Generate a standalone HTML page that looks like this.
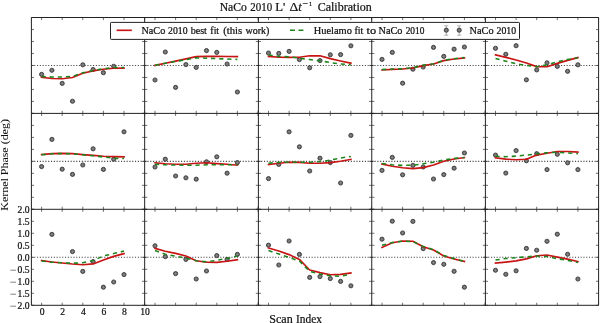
<!DOCTYPE html>
<html><head><meta charset="utf-8"><style>
html,body{margin:0;padding:0;background:#fff;}
body{width:600px;height:323px;overflow:hidden;}
svg{display:block;}
#w{width:600px;height:323px;will-change:transform;}
text{font-family:"Liberation Serif",serif;fill:#111;stroke:#111;stroke-width:0.22px;}
.tl{font-size:9.6px;}
.tt text{font-size:11px;}
.lg text{font-size:9.4px;}
.al{font-size:11.2px;}
.dot{stroke:#444;stroke-width:1.1;stroke-dasharray:1.1 1.7;}
.red{fill:none;stroke:#c81414;stroke-width:1.65;stroke-linejoin:round;stroke-linecap:square;}
.grn{fill:none;stroke:#1c841c;stroke-width:1.55;stroke-dasharray:4.2 3.9;}
.tick{stroke:#111;stroke-width:0.6;fill:none;}
.frame{stroke:#222;stroke-width:1;fill:none;}
</style></head><body>
<div id="w"><svg width="600" height="323" viewBox="0 0 600 323">
<defs>
<clipPath id="c00"><rect x="31.4" y="17.5" width="113.26" height="95.9"/></clipPath>
<clipPath id="c01"><rect x="144.66" y="17.5" width="113.74" height="95.9"/></clipPath>
<clipPath id="c02"><rect x="258.4" y="17.5" width="113.35" height="95.9"/></clipPath>
<clipPath id="c03"><rect x="371.75" y="17.5" width="113.65" height="95.9"/></clipPath>
<clipPath id="c04"><rect x="485.4" y="17.5" width="113.2" height="95.9"/></clipPath>
<clipPath id="c10"><rect x="31.4" y="113.4" width="113.26" height="95.9"/></clipPath>
<clipPath id="c11"><rect x="144.66" y="113.4" width="113.74" height="95.9"/></clipPath>
<clipPath id="c12"><rect x="258.4" y="113.4" width="113.35" height="95.9"/></clipPath>
<clipPath id="c13"><rect x="371.75" y="113.4" width="113.65" height="95.9"/></clipPath>
<clipPath id="c14"><rect x="485.4" y="113.4" width="113.2" height="95.9"/></clipPath>
<clipPath id="c20"><rect x="31.4" y="209.3" width="113.26" height="96"/></clipPath>
<clipPath id="c21"><rect x="144.66" y="209.3" width="113.74" height="96"/></clipPath>
<clipPath id="c22"><rect x="258.4" y="209.3" width="113.35" height="96"/></clipPath>
<clipPath id="c23"><rect x="371.75" y="209.3" width="113.65" height="96"/></clipPath>
<clipPath id="c24"><rect x="485.4" y="209.3" width="113.2" height="96"/></clipPath>
<g id="m"><circle r="2.12" fill="#626262" stroke="#2c2c2c" stroke-width="0.75"/><path d="M0 -1.35V1.35M-1.35 0H1.35" stroke="#959595" stroke-width="0.6"/></g>
</defs>
<g clip-path="url(#c00)">
<line x1="31.4" y1="65.45" x2="144.66" y2="65.45" class="dot"/>
<use href="#m" x="41.6" y="74.4"/>
<use href="#m" x="51.9" y="70.3"/>
<use href="#m" x="62.2" y="83.4"/>
<use href="#m" x="72.5" y="101.25"/>
<use href="#m" x="82.8" y="64.8"/>
<use href="#m" x="93.1" y="69.5"/>
<use href="#m" x="103.4" y="72.7"/>
<use href="#m" x="113.7" y="66.3"/>
<polyline points="41.6,77.3 51.9,78.5 62.2,78.8 72.5,77.5 82.8,73.2 93.1,70.9 103.4,69.2 113.7,68.3 124,68.2" class="red"/>
<polyline points="41.6,76.5 51.9,77 62.2,77 72.5,76.4 82.8,72.7 93.1,70.6 103.4,68.7 113.7,67.6 124,67.4" class="grn"/>
</g>
<g clip-path="url(#c01)">
<line x1="144.66" y1="65.45" x2="258.4" y2="65.45" class="dot"/>
<use href="#m" x="155" y="80"/>
<use href="#m" x="165.3" y="52"/>
<use href="#m" x="175.6" y="87.4"/>
<use href="#m" x="185.9" y="64.6"/>
<use href="#m" x="196.2" y="67.4"/>
<use href="#m" x="206.5" y="50.6"/>
<use href="#m" x="216.8" y="52.4"/>
<use href="#m" x="227.1" y="64"/>
<use href="#m" x="237.4" y="92"/>
<polyline points="155,65.4 165.3,63.2 175.6,61.1 185.9,58.9 196.2,56.6 206.5,56.4 216.8,56.4 227.1,56.5 237.4,56.6" class="red"/>
<polyline points="155,65.2 165.3,63.3 175.6,61.5 185.9,59.6 196.2,57.9 206.5,58.2 216.8,58.6 227.1,59 237.4,59.4" class="grn"/>
</g>
<g clip-path="url(#c02)">
<line x1="258.4" y1="65.45" x2="371.75" y2="65.45" class="dot"/>
<use href="#m" x="268.5" y="53"/>
<use href="#m" x="278.8" y="53.4"/>
<use href="#m" x="289.1" y="51.4"/>
<use href="#m" x="299.4" y="59.6"/>
<use href="#m" x="309.7" y="67.8"/>
<use href="#m" x="320" y="60.6"/>
<use href="#m" x="330.3" y="54.8"/>
<use href="#m" x="340.6" y="54.6"/>
<use href="#m" x="350.9" y="45.8"/>
<polyline points="268.5,56.4 278.8,57.2 289.1,57.4 299.4,57.2 309.7,55.8 320,55.8 330.3,58.6 340.6,61 350.9,63.2" class="red"/>
<polyline points="268.5,55 278.8,56.4 289.1,56.8 299.4,58.2 309.7,59.6 320,60.8 330.3,62.6 340.6,64 350.9,64.8" class="grn"/>
</g>
<g clip-path="url(#c03)">
<line x1="371.75" y1="65.45" x2="485.4" y2="65.45" class="dot"/>
<use href="#m" x="382" y="59.4"/>
<use href="#m" x="392.3" y="52.4"/>
<use href="#m" x="402.6" y="83.2"/>
<use href="#m" x="412.9" y="69.2"/>
<use href="#m" x="423.2" y="67"/>
<use href="#m" x="433.5" y="47.4"/>
<use href="#m" x="443.8" y="56.4"/>
<use href="#m" x="454.1" y="49.2"/>
<use href="#m" x="464.4" y="47"/>
<polyline points="382,70 392.3,69.4 402.6,69 412.9,68 423.2,65.6 433.5,64 443.8,60.6 454.1,59 464.4,58" class="red"/>
<polyline points="382,69.6 392.3,69.1 402.6,68.7 412.9,67.7 423.2,65.3 433.5,63.7 443.8,60.3 454.1,58.7 464.4,57.6" class="grn"/>
</g>
<g clip-path="url(#c04)">
<line x1="485.4" y1="65.45" x2="598.6" y2="65.45" class="dot"/>
<use href="#m" x="495.5" y="48.3"/>
<use href="#m" x="505.8" y="54.3"/>
<use href="#m" x="516.1" y="45.7"/>
<use href="#m" x="526.4" y="79.8"/>
<use href="#m" x="536.7" y="69.9"/>
<use href="#m" x="547" y="62.8"/>
<use href="#m" x="557.3" y="66.4"/>
<use href="#m" x="567.6" y="71.3"/>
<use href="#m" x="577.9" y="64.8"/>
<polyline points="495.5,54.9 505.8,57.4 516.1,60 526.4,63 536.7,66.6 547,66.7 557.3,63.4 567.6,60.4 577.9,57.6" class="red"/>
<polyline points="495.5,58.4 505.8,61.2 516.1,63.8 526.4,65.4 536.7,66.8 547,64.8 557.3,61.8 567.6,59.4 577.9,57.8" class="grn"/>
</g>
<g clip-path="url(#c10)">
<line x1="31.4" y1="161.35" x2="144.66" y2="161.35" class="dot"/>
<use href="#m" x="41.6" y="166.6"/>
<use href="#m" x="51.9" y="139.4"/>
<use href="#m" x="62.2" y="169.2"/>
<use href="#m" x="72.5" y="174.4"/>
<use href="#m" x="82.8" y="165"/>
<use href="#m" x="93.1" y="148.8"/>
<use href="#m" x="103.4" y="169.4"/>
<use href="#m" x="113.7" y="159.2"/>
<use href="#m" x="124" y="131.8"/>
<polyline points="41.6,154.6 51.9,153.6 62.2,153.4 72.5,153.6 82.8,154.6 93.1,155.4 103.4,156.2 113.7,156.6 124,156.8" class="red"/>
<polyline points="41.6,154.8 51.9,153.8 62.2,153.5 72.5,153.8 82.8,154.8 93.1,155.8 103.4,157 113.7,158.2 124,158.6" class="grn"/>
</g>
<g clip-path="url(#c11)">
<line x1="144.66" y1="161.35" x2="258.4" y2="161.35" class="dot"/>
<use href="#m" x="155" y="167"/>
<use href="#m" x="165.3" y="159.2"/>
<use href="#m" x="175.6" y="176"/>
<use href="#m" x="185.9" y="177.8"/>
<use href="#m" x="196.2" y="179.2"/>
<use href="#m" x="206.5" y="161.8"/>
<use href="#m" x="216.8" y="156.8"/>
<use href="#m" x="227.1" y="173.2"/>
<use href="#m" x="237.4" y="162.6"/>
<polyline points="155,162.8 165.3,163.8 175.6,164.2 185.9,164.2 196.2,163.2 206.5,162.8 216.8,163.6 227.1,164.2 237.4,165.2" class="red"/>
<polyline points="155,164.2 165.3,164.8 175.6,165 185.9,165.2 196.2,165.2 206.5,164.8 216.8,164.8 227.1,164.8 237.4,164.8" class="grn"/>
</g>
<g clip-path="url(#c12)">
<line x1="258.4" y1="161.35" x2="371.75" y2="161.35" class="dot"/>
<use href="#m" x="268.5" y="178.6"/>
<use href="#m" x="278.8" y="164.4"/>
<use href="#m" x="289.1" y="131.8"/>
<use href="#m" x="299.4" y="146.8"/>
<use href="#m" x="309.7" y="171"/>
<use href="#m" x="320" y="158.2"/>
<use href="#m" x="330.3" y="162.6"/>
<use href="#m" x="340.6" y="183"/>
<use href="#m" x="350.9" y="135.4"/>
<polyline points="268.5,164.6 278.8,163.2 289.1,162.2 299.4,162.4 309.7,163.2 320,163.2 330.3,162.6 340.6,161.2 350.9,159.4" class="red"/>
<polyline points="268.5,163.2 278.8,162.4 289.1,162 299.4,162.2 309.7,162.2 320,161.6 330.3,160.2 340.6,158 350.9,156.4" class="grn"/>
</g>
<g clip-path="url(#c13)">
<line x1="371.75" y1="161.35" x2="485.4" y2="161.35" class="dot"/>
<use href="#m" x="382" y="170.4"/>
<use href="#m" x="392.3" y="157.4"/>
<use href="#m" x="402.6" y="174.8"/>
<use href="#m" x="412.9" y="165.4"/>
<use href="#m" x="423.2" y="167"/>
<use href="#m" x="433.5" y="179"/>
<use href="#m" x="443.8" y="174.6"/>
<use href="#m" x="454.1" y="168.2"/>
<use href="#m" x="464.4" y="153"/>
<polyline points="382,164 392.3,166.2 402.6,167.8 412.9,168.6 423.2,167.6 433.5,165 443.8,161.2 454.1,159 464.4,157.6" class="red"/>
<polyline points="382,163.6 392.3,164.8 402.6,165.4 412.9,165.2 423.2,163.8 433.5,162.2 443.8,160 454.1,158.4 464.4,157.6" class="grn"/>
</g>
<g clip-path="url(#c14)">
<line x1="485.4" y1="161.35" x2="598.6" y2="161.35" class="dot"/>
<use href="#m" x="495.5" y="155.1"/>
<use href="#m" x="505.8" y="173.1"/>
<use href="#m" x="516.1" y="150.6"/>
<use href="#m" x="526.4" y="160.7"/>
<use href="#m" x="536.7" y="153.7"/>
<use href="#m" x="547" y="169.6"/>
<use href="#m" x="557.3" y="154.3"/>
<use href="#m" x="567.6" y="162.8"/>
<use href="#m" x="577.9" y="169.6"/>
<polyline points="495.5,157.9 505.8,159.1 516.1,159.7 526.4,159.3 536.7,155.1 547,153.3 557.3,151.5 567.6,151.5 577.9,152.1" class="red"/>
<polyline points="495.5,156.3 505.8,156.7 516.1,156.1 526.4,155.1 536.7,153.9 547,152.7 557.3,152.3 567.6,152.9 577.9,153.7" class="grn"/>
</g>
<g clip-path="url(#c20)">
<line x1="31.4" y1="257.3" x2="144.66" y2="257.3" class="dot"/>
<use href="#m" x="51.9" y="234.4"/>
<use href="#m" x="72.5" y="251.6"/>
<use href="#m" x="82.8" y="271.4"/>
<use href="#m" x="93.1" y="261.6"/>
<use href="#m" x="103.4" y="287.2"/>
<use href="#m" x="113.7" y="282"/>
<use href="#m" x="124" y="274.6"/>
<polyline points="41.6,260.5 51.9,262 62.2,263 72.5,264 82.8,264.7 93.1,263.9 103.4,260 113.7,256.4 124,253.6" class="red"/>
<polyline points="41.6,261 51.9,262.2 62.2,262.8 72.5,263.2 82.8,262.8 93.1,260.6 103.4,256 113.7,253.6 124,251.1" class="grn"/>
</g>
<g clip-path="url(#c21)">
<line x1="144.66" y1="257.3" x2="258.4" y2="257.3" class="dot"/>
<use href="#m" x="155" y="245.8"/>
<use href="#m" x="165.3" y="256.6"/>
<use href="#m" x="175.6" y="273.6"/>
<use href="#m" x="185.9" y="259.4"/>
<use href="#m" x="196.2" y="279"/>
<use href="#m" x="206.5" y="271"/>
<use href="#m" x="216.8" y="255.6"/>
<use href="#m" x="227.1" y="259.4"/>
<use href="#m" x="237.4" y="254.4"/>
<polyline points="155,248.4 165.3,251.2 175.6,253.4 185.9,256 196.2,260.8 206.5,262.2 216.8,262.4 227.1,261.2 237.4,259.8" class="red"/>
<polyline points="155,250.6 165.3,254.2 175.6,256.2 185.9,258 196.2,260.8 206.5,261.8 216.8,260.4 227.1,258.4 237.4,256" class="grn"/>
</g>
<g clip-path="url(#c22)">
<line x1="258.4" y1="257.3" x2="371.75" y2="257.3" class="dot"/>
<use href="#m" x="268.5" y="245.2"/>
<use href="#m" x="278.8" y="265"/>
<use href="#m" x="289.1" y="241"/>
<use href="#m" x="299.4" y="254.4"/>
<use href="#m" x="309.7" y="277.4"/>
<use href="#m" x="320" y="276.6"/>
<use href="#m" x="330.3" y="278.6"/>
<use href="#m" x="340.6" y="281.4"/>
<use href="#m" x="350.9" y="285.8"/>
<polyline points="268.5,248 278.8,251 289.1,254.6 299.4,259.4 309.7,270 320,272.6 330.3,274.8 340.6,274.4 350.9,273" class="red"/>
<polyline points="268.5,250.6 278.8,254 289.1,257.4 299.4,261 309.7,271.4 320,274 330.3,275.8 340.6,276.4 350.9,274" class="grn"/>
</g>
<g clip-path="url(#c23)">
<line x1="371.75" y1="257.3" x2="485.4" y2="257.3" class="dot"/>
<use href="#m" x="382" y="239.2"/>
<use href="#m" x="392.3" y="221.2"/>
<use href="#m" x="402.6" y="233"/>
<use href="#m" x="412.9" y="221.4"/>
<use href="#m" x="423.2" y="248.6"/>
<use href="#m" x="433.5" y="262.6"/>
<use href="#m" x="443.8" y="264.3"/>
<use href="#m" x="454.1" y="271.3"/>
<use href="#m" x="464.4" y="287.2"/>
<polyline points="382,247.4 392.3,242.8 402.6,241 412.9,241.2 423.2,246.8 433.5,250 443.8,256 454.1,259 464.4,261.4" class="red"/>
<polyline points="382,245.2 392.3,242.6 402.6,241.2 412.9,241.6 423.2,246.4 433.5,249.6 443.8,255.6 454.1,258.6 464.4,261.4" class="grn"/>
</g>
<g clip-path="url(#c24)">
<line x1="485.4" y1="257.3" x2="598.6" y2="257.3" class="dot"/>
<use href="#m" x="495.5" y="270.25"/>
<use href="#m" x="505.8" y="274.3"/>
<use href="#m" x="516.1" y="270.8"/>
<use href="#m" x="526.4" y="248.45"/>
<use href="#m" x="536.7" y="250.25"/>
<use href="#m" x="547" y="241.3"/>
<use href="#m" x="557.3" y="234.2"/>
<use href="#m" x="567.6" y="254.25"/>
<use href="#m" x="577.9" y="279"/>
<polyline points="495.5,263.1 505.8,262.1 516.1,260.9 526.4,258.9 536.7,255.8 547,255 557.3,257.1 567.6,259.1 577.9,261.5" class="red"/>
<polyline points="495.5,260.1 505.8,258.5 516.1,257.7 526.4,256.8 536.7,256 547,256.6 557.3,258.7 567.6,260.5 577.9,262.5" class="grn"/>
</g>
<path d="M41.6 17.5v2.6M41.6 113.4v-2.6M62.2 17.5v2.6M62.2 113.4v-2.6M82.8 17.5v2.6M82.8 113.4v-2.6M103.4 17.5v2.6M103.4 113.4v-2.6M124 17.5v2.6M124 113.4v-2.6M144.6 17.5v2.6M144.6 113.4v-2.6M31.4 17.5h2.6M144.66 17.5h-2.6M31.4 29.49h2.6M144.66 29.49h-2.6M31.4 41.48h2.6M144.66 41.48h-2.6M31.4 53.46h2.6M144.66 53.46h-2.6M31.4 65.45h2.6M144.66 65.45h-2.6M31.4 77.44h2.6M144.66 77.44h-2.6M31.4 89.43h2.6M144.66 89.43h-2.6M31.4 101.41h2.6M144.66 101.41h-2.6M31.4 113.4h2.6M144.66 113.4h-2.6M155 17.5v2.6M155 113.4v-2.6M175.6 17.5v2.6M175.6 113.4v-2.6M196.2 17.5v2.6M196.2 113.4v-2.6M216.8 17.5v2.6M216.8 113.4v-2.6M237.4 17.5v2.6M237.4 113.4v-2.6M258 17.5v2.6M258 113.4v-2.6M144.66 17.5h2.6M258.4 17.5h-2.6M144.66 29.49h2.6M258.4 29.49h-2.6M144.66 41.48h2.6M258.4 41.48h-2.6M144.66 53.46h2.6M258.4 53.46h-2.6M144.66 65.45h2.6M258.4 65.45h-2.6M144.66 77.44h2.6M258.4 77.44h-2.6M144.66 89.43h2.6M258.4 89.43h-2.6M144.66 101.41h2.6M258.4 101.41h-2.6M144.66 113.4h2.6M258.4 113.4h-2.6M268.5 17.5v2.6M268.5 113.4v-2.6M289.1 17.5v2.6M289.1 113.4v-2.6M309.7 17.5v2.6M309.7 113.4v-2.6M330.3 17.5v2.6M330.3 113.4v-2.6M350.9 17.5v2.6M350.9 113.4v-2.6M371.5 17.5v2.6M371.5 113.4v-2.6M258.4 17.5h2.6M371.75 17.5h-2.6M258.4 29.49h2.6M371.75 29.49h-2.6M258.4 41.48h2.6M371.75 41.48h-2.6M258.4 53.46h2.6M371.75 53.46h-2.6M258.4 65.45h2.6M371.75 65.45h-2.6M258.4 77.44h2.6M371.75 77.44h-2.6M258.4 89.43h2.6M371.75 89.43h-2.6M258.4 101.41h2.6M371.75 101.41h-2.6M258.4 113.4h2.6M371.75 113.4h-2.6M382 17.5v2.6M382 113.4v-2.6M402.6 17.5v2.6M402.6 113.4v-2.6M423.2 17.5v2.6M423.2 113.4v-2.6M443.8 17.5v2.6M443.8 113.4v-2.6M464.4 17.5v2.6M464.4 113.4v-2.6M485 17.5v2.6M485 113.4v-2.6M371.75 17.5h2.6M485.4 17.5h-2.6M371.75 29.49h2.6M485.4 29.49h-2.6M371.75 41.48h2.6M485.4 41.48h-2.6M371.75 53.46h2.6M485.4 53.46h-2.6M371.75 65.45h2.6M485.4 65.45h-2.6M371.75 77.44h2.6M485.4 77.44h-2.6M371.75 89.43h2.6M485.4 89.43h-2.6M371.75 101.41h2.6M485.4 101.41h-2.6M371.75 113.4h2.6M485.4 113.4h-2.6M495.5 17.5v2.6M495.5 113.4v-2.6M516.1 17.5v2.6M516.1 113.4v-2.6M536.7 17.5v2.6M536.7 113.4v-2.6M557.3 17.5v2.6M557.3 113.4v-2.6M577.9 17.5v2.6M577.9 113.4v-2.6M598.5 17.5v2.6M598.5 113.4v-2.6M485.4 17.5h2.6M598.6 17.5h-2.6M485.4 29.49h2.6M598.6 29.49h-2.6M485.4 41.48h2.6M598.6 41.48h-2.6M485.4 53.46h2.6M598.6 53.46h-2.6M485.4 65.45h2.6M598.6 65.45h-2.6M485.4 77.44h2.6M598.6 77.44h-2.6M485.4 89.43h2.6M598.6 89.43h-2.6M485.4 101.41h2.6M598.6 101.41h-2.6M485.4 113.4h2.6M598.6 113.4h-2.6M41.6 113.4v2.6M41.6 209.3v-2.6M62.2 113.4v2.6M62.2 209.3v-2.6M82.8 113.4v2.6M82.8 209.3v-2.6M103.4 113.4v2.6M103.4 209.3v-2.6M124 113.4v2.6M124 209.3v-2.6M144.6 113.4v2.6M144.6 209.3v-2.6M31.4 113.4h2.6M144.66 113.4h-2.6M31.4 125.39h2.6M144.66 125.39h-2.6M31.4 137.38h2.6M144.66 137.38h-2.6M31.4 149.36h2.6M144.66 149.36h-2.6M31.4 161.35h2.6M144.66 161.35h-2.6M31.4 173.34h2.6M144.66 173.34h-2.6M31.4 185.33h2.6M144.66 185.33h-2.6M31.4 197.31h2.6M144.66 197.31h-2.6M31.4 209.3h2.6M144.66 209.3h-2.6M155 113.4v2.6M155 209.3v-2.6M175.6 113.4v2.6M175.6 209.3v-2.6M196.2 113.4v2.6M196.2 209.3v-2.6M216.8 113.4v2.6M216.8 209.3v-2.6M237.4 113.4v2.6M237.4 209.3v-2.6M258 113.4v2.6M258 209.3v-2.6M144.66 113.4h2.6M258.4 113.4h-2.6M144.66 125.39h2.6M258.4 125.39h-2.6M144.66 137.38h2.6M258.4 137.38h-2.6M144.66 149.36h2.6M258.4 149.36h-2.6M144.66 161.35h2.6M258.4 161.35h-2.6M144.66 173.34h2.6M258.4 173.34h-2.6M144.66 185.33h2.6M258.4 185.33h-2.6M144.66 197.31h2.6M258.4 197.31h-2.6M144.66 209.3h2.6M258.4 209.3h-2.6M268.5 113.4v2.6M268.5 209.3v-2.6M289.1 113.4v2.6M289.1 209.3v-2.6M309.7 113.4v2.6M309.7 209.3v-2.6M330.3 113.4v2.6M330.3 209.3v-2.6M350.9 113.4v2.6M350.9 209.3v-2.6M371.5 113.4v2.6M371.5 209.3v-2.6M258.4 113.4h2.6M371.75 113.4h-2.6M258.4 125.39h2.6M371.75 125.39h-2.6M258.4 137.38h2.6M371.75 137.38h-2.6M258.4 149.36h2.6M371.75 149.36h-2.6M258.4 161.35h2.6M371.75 161.35h-2.6M258.4 173.34h2.6M371.75 173.34h-2.6M258.4 185.33h2.6M371.75 185.33h-2.6M258.4 197.31h2.6M371.75 197.31h-2.6M258.4 209.3h2.6M371.75 209.3h-2.6M382 113.4v2.6M382 209.3v-2.6M402.6 113.4v2.6M402.6 209.3v-2.6M423.2 113.4v2.6M423.2 209.3v-2.6M443.8 113.4v2.6M443.8 209.3v-2.6M464.4 113.4v2.6M464.4 209.3v-2.6M485 113.4v2.6M485 209.3v-2.6M371.75 113.4h2.6M485.4 113.4h-2.6M371.75 125.39h2.6M485.4 125.39h-2.6M371.75 137.38h2.6M485.4 137.38h-2.6M371.75 149.36h2.6M485.4 149.36h-2.6M371.75 161.35h2.6M485.4 161.35h-2.6M371.75 173.34h2.6M485.4 173.34h-2.6M371.75 185.33h2.6M485.4 185.33h-2.6M371.75 197.31h2.6M485.4 197.31h-2.6M371.75 209.3h2.6M485.4 209.3h-2.6M495.5 113.4v2.6M495.5 209.3v-2.6M516.1 113.4v2.6M516.1 209.3v-2.6M536.7 113.4v2.6M536.7 209.3v-2.6M557.3 113.4v2.6M557.3 209.3v-2.6M577.9 113.4v2.6M577.9 209.3v-2.6M598.5 113.4v2.6M598.5 209.3v-2.6M485.4 113.4h2.6M598.6 113.4h-2.6M485.4 125.39h2.6M598.6 125.39h-2.6M485.4 137.38h2.6M598.6 137.38h-2.6M485.4 149.36h2.6M598.6 149.36h-2.6M485.4 161.35h2.6M598.6 161.35h-2.6M485.4 173.34h2.6M598.6 173.34h-2.6M485.4 185.33h2.6M598.6 185.33h-2.6M485.4 197.31h2.6M598.6 197.31h-2.6M485.4 209.3h2.6M598.6 209.3h-2.6M41.6 209.3v2.6M41.6 305.3v-2.6M62.2 209.3v2.6M62.2 305.3v-2.6M82.8 209.3v2.6M82.8 305.3v-2.6M103.4 209.3v2.6M103.4 305.3v-2.6M124 209.3v2.6M124 305.3v-2.6M144.6 209.3v2.6M144.6 305.3v-2.6M31.4 209.3h2.6M144.66 209.3h-2.6M31.4 221.3h2.6M144.66 221.3h-2.6M31.4 233.3h2.6M144.66 233.3h-2.6M31.4 245.3h2.6M144.66 245.3h-2.6M31.4 257.3h2.6M144.66 257.3h-2.6M31.4 269.3h2.6M144.66 269.3h-2.6M31.4 281.3h2.6M144.66 281.3h-2.6M31.4 293.3h2.6M144.66 293.3h-2.6M31.4 305.3h2.6M144.66 305.3h-2.6M155 209.3v2.6M155 305.3v-2.6M175.6 209.3v2.6M175.6 305.3v-2.6M196.2 209.3v2.6M196.2 305.3v-2.6M216.8 209.3v2.6M216.8 305.3v-2.6M237.4 209.3v2.6M237.4 305.3v-2.6M258 209.3v2.6M258 305.3v-2.6M144.66 209.3h2.6M258.4 209.3h-2.6M144.66 221.3h2.6M258.4 221.3h-2.6M144.66 233.3h2.6M258.4 233.3h-2.6M144.66 245.3h2.6M258.4 245.3h-2.6M144.66 257.3h2.6M258.4 257.3h-2.6M144.66 269.3h2.6M258.4 269.3h-2.6M144.66 281.3h2.6M258.4 281.3h-2.6M144.66 293.3h2.6M258.4 293.3h-2.6M144.66 305.3h2.6M258.4 305.3h-2.6M268.5 209.3v2.6M268.5 305.3v-2.6M289.1 209.3v2.6M289.1 305.3v-2.6M309.7 209.3v2.6M309.7 305.3v-2.6M330.3 209.3v2.6M330.3 305.3v-2.6M350.9 209.3v2.6M350.9 305.3v-2.6M371.5 209.3v2.6M371.5 305.3v-2.6M258.4 209.3h2.6M371.75 209.3h-2.6M258.4 221.3h2.6M371.75 221.3h-2.6M258.4 233.3h2.6M371.75 233.3h-2.6M258.4 245.3h2.6M371.75 245.3h-2.6M258.4 257.3h2.6M371.75 257.3h-2.6M258.4 269.3h2.6M371.75 269.3h-2.6M258.4 281.3h2.6M371.75 281.3h-2.6M258.4 293.3h2.6M371.75 293.3h-2.6M258.4 305.3h2.6M371.75 305.3h-2.6M382 209.3v2.6M382 305.3v-2.6M402.6 209.3v2.6M402.6 305.3v-2.6M423.2 209.3v2.6M423.2 305.3v-2.6M443.8 209.3v2.6M443.8 305.3v-2.6M464.4 209.3v2.6M464.4 305.3v-2.6M485 209.3v2.6M485 305.3v-2.6M371.75 209.3h2.6M485.4 209.3h-2.6M371.75 221.3h2.6M485.4 221.3h-2.6M371.75 233.3h2.6M485.4 233.3h-2.6M371.75 245.3h2.6M485.4 245.3h-2.6M371.75 257.3h2.6M485.4 257.3h-2.6M371.75 269.3h2.6M485.4 269.3h-2.6M371.75 281.3h2.6M485.4 281.3h-2.6M371.75 293.3h2.6M485.4 293.3h-2.6M371.75 305.3h2.6M485.4 305.3h-2.6M495.5 209.3v2.6M495.5 305.3v-2.6M516.1 209.3v2.6M516.1 305.3v-2.6M536.7 209.3v2.6M536.7 305.3v-2.6M557.3 209.3v2.6M557.3 305.3v-2.6M577.9 209.3v2.6M577.9 305.3v-2.6M598.5 209.3v2.6M598.5 305.3v-2.6M485.4 209.3h2.6M598.6 209.3h-2.6M485.4 221.3h2.6M598.6 221.3h-2.6M485.4 233.3h2.6M598.6 233.3h-2.6M485.4 245.3h2.6M598.6 245.3h-2.6M485.4 257.3h2.6M598.6 257.3h-2.6M485.4 269.3h2.6M598.6 269.3h-2.6M485.4 281.3h2.6M598.6 281.3h-2.6M485.4 293.3h2.6M598.6 293.3h-2.6M485.4 305.3h2.6M598.6 305.3h-2.6" class="tick"/>
<path d="M31.4 17.5V305.3M144.66 17.5V305.3M258.4 17.5V305.3M371.75 17.5V305.3M485.4 17.5V305.3M598.6 17.5V305.3M31.4 17.5H598.6M31.4 113.4H598.6M31.4 209.3H598.6M31.4 305.3H598.6" class="frame"/>
<text x="29.6" y="212.5" class="tl" text-anchor="end">2.0</text>
<text x="29.6" y="224.5" class="tl" text-anchor="end">1.5</text>
<text x="29.6" y="236.5" class="tl" text-anchor="end">1.0</text>
<text x="29.6" y="248.5" class="tl" text-anchor="end">0.5</text>
<text x="29.6" y="260.5" class="tl" text-anchor="end">0.0</text>
<path d="M10.3 270.2H16" stroke="#666" stroke-width="0.8"/>
<text x="29.6" y="272.5" class="tl" text-anchor="end">0.5</text>
<path d="M10.3 282.2H16" stroke="#666" stroke-width="0.8"/>
<text x="29.6" y="284.5" class="tl" text-anchor="end">1.0</text>
<path d="M10.3 294.2H16" stroke="#666" stroke-width="0.8"/>
<text x="29.6" y="296.5" class="tl" text-anchor="end">1.5</text>
<path d="M10.3 306.2H16" stroke="#666" stroke-width="0.8"/>
<text x="29.6" y="308.5" class="tl" text-anchor="end">2.0</text>
<text x="42.1" y="314.9" class="tl" text-anchor="middle">0</text>
<text x="62.7" y="314.9" class="tl" text-anchor="middle">2</text>
<text x="83.3" y="314.9" class="tl" text-anchor="middle">4</text>
<text x="103.9" y="314.9" class="tl" text-anchor="middle">6</text>
<text x="124.5" y="314.9" class="tl" text-anchor="middle">8</text>
<text x="145.1" y="314.9" class="tl" text-anchor="middle">10</text>
<text x="219.68" y="10.6" textLength="27.19" lengthAdjust="spacingAndGlyphs" style="font-size:11.8px;" >NaCo</text>
<text x="250.33" y="10.6" textLength="21.79" lengthAdjust="spacingAndGlyphs" style="font-size:11.8px;" >2010</text>
<text x="275.28" y="10.6" textLength="10.09" lengthAdjust="spacingAndGlyphs" style="font-size:11.8px;" >L'</text>
<text x="289.5" y="10.6" textLength="8.8" lengthAdjust="spacingAndGlyphs" style="font-size:11.8px;" >&#916;</text>
<text x="298.3" y="10.6" textLength="3.4" lengthAdjust="spacingAndGlyphs" style="font-size:11.8px;" font-style="italic">t</text>
<text x="302.5" y="6" textLength="5.6" lengthAdjust="spacingAndGlyphs" style="font-size:8px;" >&#8722;</text>
<text x="308.9" y="5.9" textLength="3" lengthAdjust="spacingAndGlyphs" style="font-size:6.2px;" >1</text>
<text x="317.66" y="10.6" textLength="54.16" lengthAdjust="spacingAndGlyphs" style="font-size:11.8px;" >Calibration</text>
<!-- legend -->
<rect x="110.5" y="22.4" width="409" height="17" rx="0.7" fill="#fff" stroke="#222" stroke-width="1"/>
<line x1="117.4" y1="30.3" x2="131" y2="30.3" class="red"/>
<text x="141.49" y="33.5" textLength="23.75" lengthAdjust="spacingAndGlyphs" style="font-size:9.4px;" >NaCo</text>
<text x="168.1" y="33.5" textLength="19.47" lengthAdjust="spacingAndGlyphs" style="font-size:9.4px;" >2010</text>
<text x="190.65" y="33.5" textLength="16.29" lengthAdjust="spacingAndGlyphs" style="font-size:9.4px;" >best</text>
<text x="210.38" y="33.5" textLength="8.74" lengthAdjust="spacingAndGlyphs" style="font-size:9.4px;" >fit</text>
<text x="223.15" y="33.5" textLength="18.93" lengthAdjust="spacingAndGlyphs" style="font-size:9.4px;" >(this</text>
<text x="245.47" y="33.5" textLength="24" lengthAdjust="spacingAndGlyphs" style="font-size:9.4px;" >work)</text>
<text x="313.82" y="33.5" textLength="38.09" lengthAdjust="spacingAndGlyphs" style="font-size:9.4px;" >Huelamo</text>
<text x="354.48" y="33.5" textLength="8.94" lengthAdjust="spacingAndGlyphs" style="font-size:9.4px;" >fit</text>
<text x="366.57" y="33.5" textLength="9.57" lengthAdjust="spacingAndGlyphs" style="font-size:9.4px;" >to</text>
<text x="378.61" y="33.5" textLength="23.88" lengthAdjust="spacingAndGlyphs" style="font-size:9.4px;" >NaCo</text>
<text x="405.64" y="33.5" textLength="18.76" lengthAdjust="spacingAndGlyphs" style="font-size:9.4px;" >2010</text>
<text x="469.54" y="33.5" textLength="24.01" lengthAdjust="spacingAndGlyphs" style="font-size:9.4px;" >NaCo</text>
<text x="496.5" y="33.5" textLength="19.62" lengthAdjust="spacingAndGlyphs" style="font-size:9.4px;" >2010</text>
<line x1="290" y1="30.3" x2="303.4" y2="30.3" class="grn" style="stroke-dasharray:5 3.5"/>
<g stroke="#999" stroke-width="0.8" fill="none"><path d="M446.3 25.8V35.2M444.3 25.8H448.3M444.3 35.2H448.3M459.2 25.8V35.2M457.2 25.8H461.2M457.2 35.2H461.2"/></g>
<use href="#m" x="446.3" y="30.2"/><use href="#m" x="459.2" y="30.2"/>
<text x="269.32" y="323.2" textLength="23.42" lengthAdjust="spacingAndGlyphs" style="font-size:12px;" >Scan</text>
<text x="296.08" y="323.2" textLength="25.89" lengthAdjust="spacingAndGlyphs" style="font-size:12px;" >Index</text>
<text transform="translate(8.4,210.74) rotate(-90)" textLength="91.62" lengthAdjust="spacingAndGlyphs" style="font-size:11.4px;stroke-width:0.05px" >Kernel Phase (deg)</text>
</svg></div>
</body></html>
